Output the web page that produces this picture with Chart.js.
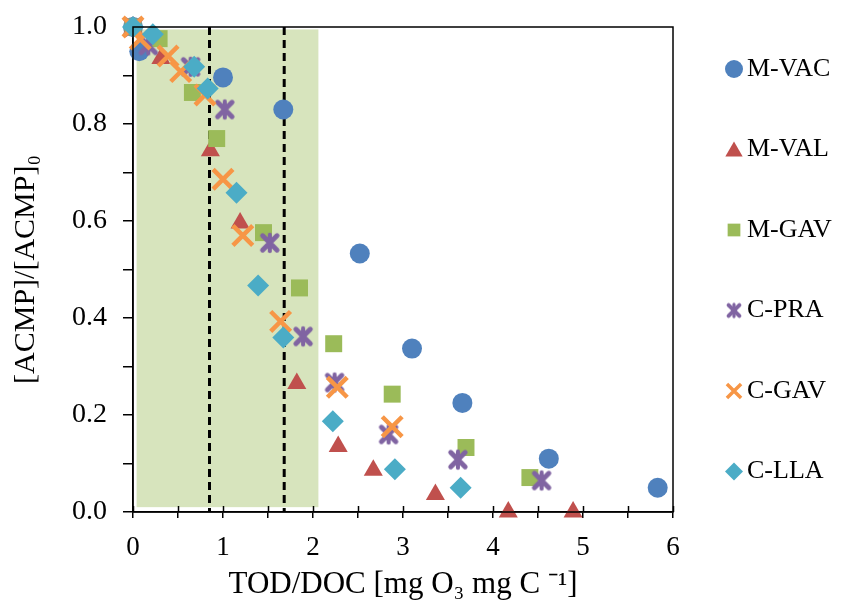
<!DOCTYPE html>
<html>
<head>
<meta charset="utf-8">
<script src="https://cdn.jsdelivr.net/npm/chart.js@4/dist/chart.umd.min.js"></script>
<style>
  html, body { margin: 0; padding: 0; background: #fff; }
  #wrap { width: 852px; height: 608px; }
</style>
</head>
<body>
<div id="wrap"><canvas id="chart" width="852" height="608"></canvas></div>
<script>
// series names in legend order
const seriesNames = ['M-VAC', 'M-VAL', 'M-GAV', 'C-PRA', 'C-GAV', 'C-LLA'];

// TOD/DOC values (x) and [ACMP]/[ACMP]0 values (y)
const mvacX = [0, 0.07, 1.0, 1.67, 2.52, 3.10, 3.66, 4.62, 5.83];
const mvacY = [1.0, 0.95, 0.896, 0.83, 0.533, 0.337, 0.225, 0.11, 0.05];

const mvalX = [0, 0.31, 0.86, 1.19, 1.82, 2.28, 2.67, 3.36, 4.17, 4.89];
const mvalY = [1.0, 0.935, 0.745, 0.596, 0.265, 0.135, 0.086, 0.036, 0.0, 0.0];

const mgavX = [0, 0.29, 0.66, 0.93, 1.45, 1.85, 2.23, 2.88, 3.70, 4.41];
const mgavY = [1.0, 0.976, 0.865, 0.77, 0.576, 0.462, 0.347, 0.243, 0.133, 0.071];

const cpraX = [0, 0.17, 0.64, 1.02, 1.52, 1.89, 2.24, 2.84, 3.61, 4.54];
const cpraY = [1.0, 0.962, 0.918, 0.83, 0.555, 0.362, 0.267, 0.16, 0.108, 0.065];

const cgavX = [0, 0.08, 0.39, 0.53, 0.80, 1.0, 1.22, 1.64, 2.27, 2.88];
const cgavY = [1.0, 0.975, 0.94, 0.908, 0.86, 0.686, 0.57, 0.393, 0.257, 0.176];

const cllaX = [0, 0.22, 0.68, 0.83, 1.15, 1.39, 1.67, 2.22, 2.91, 3.64];
const cllaY = [1.0, 0.985, 0.918, 0.873, 0.658, 0.467, 0.36, 0.187, 0.088, 0.05];

// shaded band and dashed markers on the x axis
const bandX = [0.04, 2.06];
const bandY = [0.01, 0.995];
const dashedX = [0.85, 1.68];

// axis ranges and tick steps
const xRange = [0, 6];
const yRange = [0, 1];
const xStep = 0.5;
const yStep = 0.1;

const colors = ['#4f81bd', '#c0504d', '#9bbb59', '#8064a2', '#f79646', '#4bacc6'];
const serif = "'Liberation Serif', 'Times New Roman', serif";

// asterisk marker like the spreadsheet "star"
function makeStar(color, size, lw) {
  const c = document.createElement('canvas');
  c.width = size; c.height = size;
  const g = c.getContext('2d');
  const m = size * 0.2, e = size - m, h = size / 2;
  g.strokeStyle = color;
  g.lineCap = 'round';
  g.lineWidth = lw;
  g.beginPath();
  g.moveTo(m, m); g.lineTo(e, e);
  g.moveTo(e, m); g.lineTo(m, e);
  g.stroke();
  g.lineWidth = lw * 0.8;
  g.beginPath();
  g.moveTo(h, m * 0.8); g.lineTo(h, size - m * 0.8);
  g.stroke();
  return c;
}

const xs = [mvacX, mvalX, mgavX, cpraX, cgavX, cllaX];
const ys = [mvacY, mvalY, mgavY, cpraY, cgavY, cllaY];
const pointStyles = ['circle', 'triangle', 'rect', makeStar(colors[3], 24, 5), 'crossRot', 'rectRot'];
const legendStyles = ['circle', 'triangle', 'rect', makeStar(colors[3], 18, 4), 'crossRot', 'rectRot'];
const radii = [10, 11, 12, 12, 14, 11];
const legendRadii = [9, 10, 9, 9, 10, 9];

const datasets = seriesNames.map((name, i) => ({
  label: name,
  data: xs[i].map((x, k) => ({ x: x, y: ys[i][k] })),
  pointStyle: pointStyles[i],
  pointRadius: radii[i],
  pointHoverRadius: radii[i],
  backgroundColor: colors[i],
  borderColor: colors[i],
  borderWidth: i === 4 ? 4.5 : 0,
  order: 5 - i,
  clip: false
}));

// green band + dashed lines behind the points, frame, inside ticks and legend on top
const decor = {
  id: 'decor',
  beforeDatasetsDraw(chart) {
    const { ctx, scales: { x, y } } = chart;
    ctx.save();
    ctx.fillStyle = '#d7e4bd';
    const l = x.getPixelForValue(bandX[0]), r = x.getPixelForValue(bandX[1]);
    const t = y.getPixelForValue(bandY[1]), b = y.getPixelForValue(bandY[0]);
    ctx.fillRect(l, t, r - l, b - t);
    ctx.strokeStyle = '#000';
    ctx.lineWidth = 3;
    ctx.setLineDash([8, 5]);
    dashedX.forEach(v => {
      const px = x.getPixelForValue(v);
      ctx.beginPath();
      ctx.moveTo(px, y.getPixelForValue(yRange[1]));
      ctx.lineTo(px, y.getPixelForValue(yRange[0]));
      ctx.stroke();
    });
    ctx.restore();
  },
  afterDraw(chart) {
    const { ctx, chartArea: a, scales: { x } } = chart;
    ctx.save();
    ctx.strokeStyle = '#000';
    ctx.lineWidth = 1.5;
    ctx.strokeRect(a.left, a.top, a.right - a.left, a.bottom - a.top);
    x.ticks.forEach(t => {
      const px = Math.round(x.getPixelForValue(t.value)) + 0.5;
      ctx.beginPath();
      ctx.moveTo(px, a.bottom);
      ctx.lineTo(px, a.bottom - 6);
      ctx.stroke();
    });
    // legend
    ctx.font = '26px ' + serif;
    ctx.textBaseline = 'middle';
    seriesNames.forEach((name, i) => {
      const ly = 69 + i * 80.5;
      ctx.fillStyle = colors[i];
      ctx.strokeStyle = colors[i];
      ctx.lineWidth = 3.5;
      Chart.helpers.drawPoint(ctx, {
        pointStyle: legendStyles[i],
        radius: legendRadii[i],
        borderWidth: i === 4 ? 3.5 : 0,
        rotation: 0
      }, 734, ly + (i === 1 ? 2 : 0));
      ctx.fillStyle = '#000';
      ctx.fillText(name, 747, ly);
    });
    ctx.restore();
  }
};

new Chart(document.getElementById('chart'), {
  type: 'scatter',
  data: { datasets: datasets },
  options: {
    responsive: false,
    animation: false,
    layout: { padding: { left: 8, right: 179, top: 27, bottom: 0 } },
    plugins: {
      legend: { display: false },
      tooltip: { enabled: false }
    },
    scales: {
      x: {
        type: 'linear',
        min: xRange[0],
        max: xRange[1],
        afterFit: s => { s.height = 96; s.paddingLeft = 0; s.paddingRight = 0; },
        ticks: {
          stepSize: xStep,
          autoSkip: false,
          maxRotation: 0,
          padding: 14,
          color: '#000',
          font: { family: serif, size: 27 },
          callback: v => (Math.abs(v - Math.round(v)) < 1e-6 ? String(Math.round(v)) : '')
        },
        grid: { drawOnChartArea: false, drawTicks: true, tickLength: 6, color: '#000', lineWidth: 1.5 },
        border: { color: '#000', width: 1.5 },
        title: {
          display: true,
          text: 'TOD/DOC [mg O\u2083 mg C \u207B\u00B9]',
          color: '#000',
          font: { family: serif, size: 31 },
          padding: { top: 0, bottom: 5 }
        }
      },
      y: {
        type: 'linear',
        min: yRange[0],
        max: yRange[1],
        afterFit: s => { s.width = 125; s.paddingTop = 0; s.paddingBottom = 0; },
        ticks: {
          stepSize: yStep,
          autoSkip: false,
          padding: 16,
          color: '#000',
          font: { family: serif, size: 28 },
          callback: v => (Math.round(v * 10) % 2 === 0 ? v.toFixed(1) : '')
        },
        grid: { drawOnChartArea: false, drawTicks: true, tickLength: 10, color: '#000', lineWidth: 1.5 },
        border: { color: '#000', width: 1.5 },
        title: {
          display: true,
          text: '[ACMP]/[ACMP]\u2080',
          color: '#000',
          font: { family: serif, size: 30 },
          padding: { top: 0, bottom: 2 }
        }
      }
    }
  },
  plugins: [decor]
});
</script>
</body>
</html>
